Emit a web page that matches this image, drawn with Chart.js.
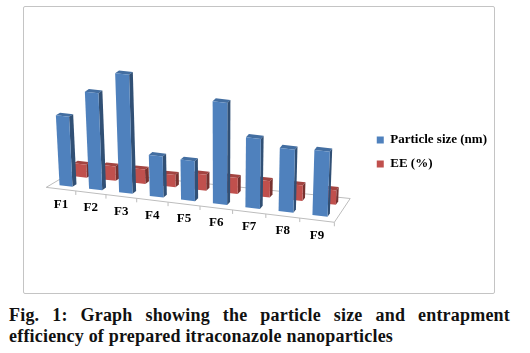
<!DOCTYPE html>
<html lang="en">
<head>
<meta charset="utf-8">
<style>
html, body { margin: 0; padding: 0; background: #fff; }
#wrap { position: relative; width: 530px; height: 353px; overflow: hidden; }
#frame { position: absolute; left: 23px; top: 6px; width: 472px; height: 288px; border: 1px solid #c4c4c4; border-radius: 2px; box-sizing: border-box; }
#holder { position: absolute; left: 0; top: 0; width: 530px; height: 296px; }
#caption { position: absolute; left: 9px; top: 305px; width: 501px; font: bold 18px/21px "Liberation Serif", serif; letter-spacing: 0.2px; color: #111; text-align: justify; }
</style>
</head>
<body>
<div id="wrap">
  <div id="frame"></div>
  <div id="holder"><canvas id="myChart"></canvas></div>
  <div id="caption">Fig. 1: Graph showing the particle size and entrapment efficiency of prepared itraconazole nanoparticles</div>
</div>
<script src="https://cdn.jsdelivr.net/npm/chart.js"></script>
<script>
const categories = ['F1', 'F2', 'F3', 'F4', 'F5', 'F6', 'F7', 'F8', 'F9'];
// no axis in the picture, sizes
const particleSize = [350, 485, 595, 205, 200, 510, 350, 315, 325];
const entrapment = [65, 72, 72, 62, 80, 80, 82, 78, 72];

// perspective of the sloped floor
function project(t, d, h) {
    const w = 1 - 0.0758 * t;
    let x = (229.7 * t + 66) / w;
    let y = 186 + 0.118 * (x - 66);
    x += d * (14.5 - 6 * t);
    y -= d * (9 + 3 * t);
    x += h * 0.00033 * (x - 220);
    return [x, y - h];
}

function shade(rgb, f) {
    return 'rgb(' + rgb.map(c => Math.round(c * f)).join(',') + ')';
}

function poly(ctx, pts, fill) {
    ctx.beginPath();
    pts.forEach((p, i) => i ? ctx.lineTo(p[0], p[1]) : ctx.moveTo(p[0], p[1]));
    ctx.closePath();
    ctx.fillStyle = fill;
    ctx.fill();
}

let area = null;
const toT = x => ((x - area.left) / area.width - 1 / 18) * 9 / 8;

// bars are still elements of the bar controller, only painted as boxes on the floor
Chart.BarElement.prototype.draw = function (ctx) {
    const rgb = this.options.backgroundColor.match(/\d+/g).map(Number);
    const t = toT(this.x);
    const d0 = rgb[0] > rgb[2] ? 1 : 0;
    const d1 = d0 + 0.28;
    const half = 0.0275;
    const h = this.base - this.y;
    const a = t - half, b = t + half;
    poly(ctx, [project(a, d0, h), project(a, d1, h), project(b, d1, h), project(b, d0, h)], shade(rgb, 0.85));
    poly(ctx, [project(b, d0, 0), project(b, d1, 0), project(b, d1, h), project(b, d0, h)], shade(rgb, 0.62));
    poly(ctx, [project(a, d0, 0), project(b, d0, 0), project(b, d0, h), project(a, d0, h)], shade(rgb, 1));
};

const floorPlugin = {
    id: 'floor',
    beforeDatasetsDraw(chart) {
        area = chart.chartArea;
        const ctx = chart.ctx;
        const tL = toT(area.left), tR = toT(area.right);
        ctx.save();
        ctx.strokeStyle = '#bdbdbd';
        ctx.lineWidth = 1;
        ctx.beginPath();
        const c = [project(tL, -0.35, 0), project(tR, -0.35, 0), project(tR, 1.6, 0), project(tL, 1.6, 0)];
        c.forEach((p, i) => i ? ctx.lineTo(p[0], p[1]) : ctx.moveTo(p[0], p[1]));
        ctx.closePath();
        ctx.stroke();
        // tick marks + category labels
        const xs = chart.scales.x;
        const step = area.width / categories.length;
        categories.forEach((name, i) => {
            const cx = xs.getPixelForValue(i);
            const p = project(toT(cx + step / 2), -0.35, 0);
            ctx.beginPath();
            ctx.moveTo(p[0], p[1]);
            ctx.lineTo(p[0], p[1] + 4);
            ctx.stroke();
            const q = project(toT(cx), -0.35, 0);
            ctx.fillStyle = '#000';
            ctx.font = 'bold 13px "Liberation Serif", serif';
            ctx.textAlign = 'center';
            ctx.textBaseline = 'middle';
            ctx.fillText(name, q[0], q[1] + 15);
        });
        ctx.restore();
    }
};

new Chart(document.getElementById('myChart'), {
    type: 'bar',
    data: {
        labels: categories,
        datasets: [
            { label: 'Particle size (nm)', data: particleSize, backgroundColor: 'rgb(79,129,189)', grouped: false, clip: false },
            { label: 'EE (%)', data: entrapment, backgroundColor: 'rgb(192,80,77)', grouped: false, clip: false }
        ]
    },
    options: {
        responsive: true,
        maintainAspectRatio: false,
        animation: false,
        layout: { padding: { top: 42, right: 33, bottom: 34, left: 48 } },
        scales: {
            x: { display: false, grid: { display: false } },
            y: { display: false, min: 0, max: 1100 }
        },
        plugins: {
            tooltip: { enabled: false },
            legend: {
                position: 'right',
                labels: {
                    boxWidth: 7,
                    boxHeight: 7,
                    padding: 11,
                    color: '#000',
                    font: { family: '"Liberation Serif", serif', weight: 'bold', size: 13 }
                }
            }
        }
    },
    plugins: [floorPlugin]
});
</script>
</body>
</html>
